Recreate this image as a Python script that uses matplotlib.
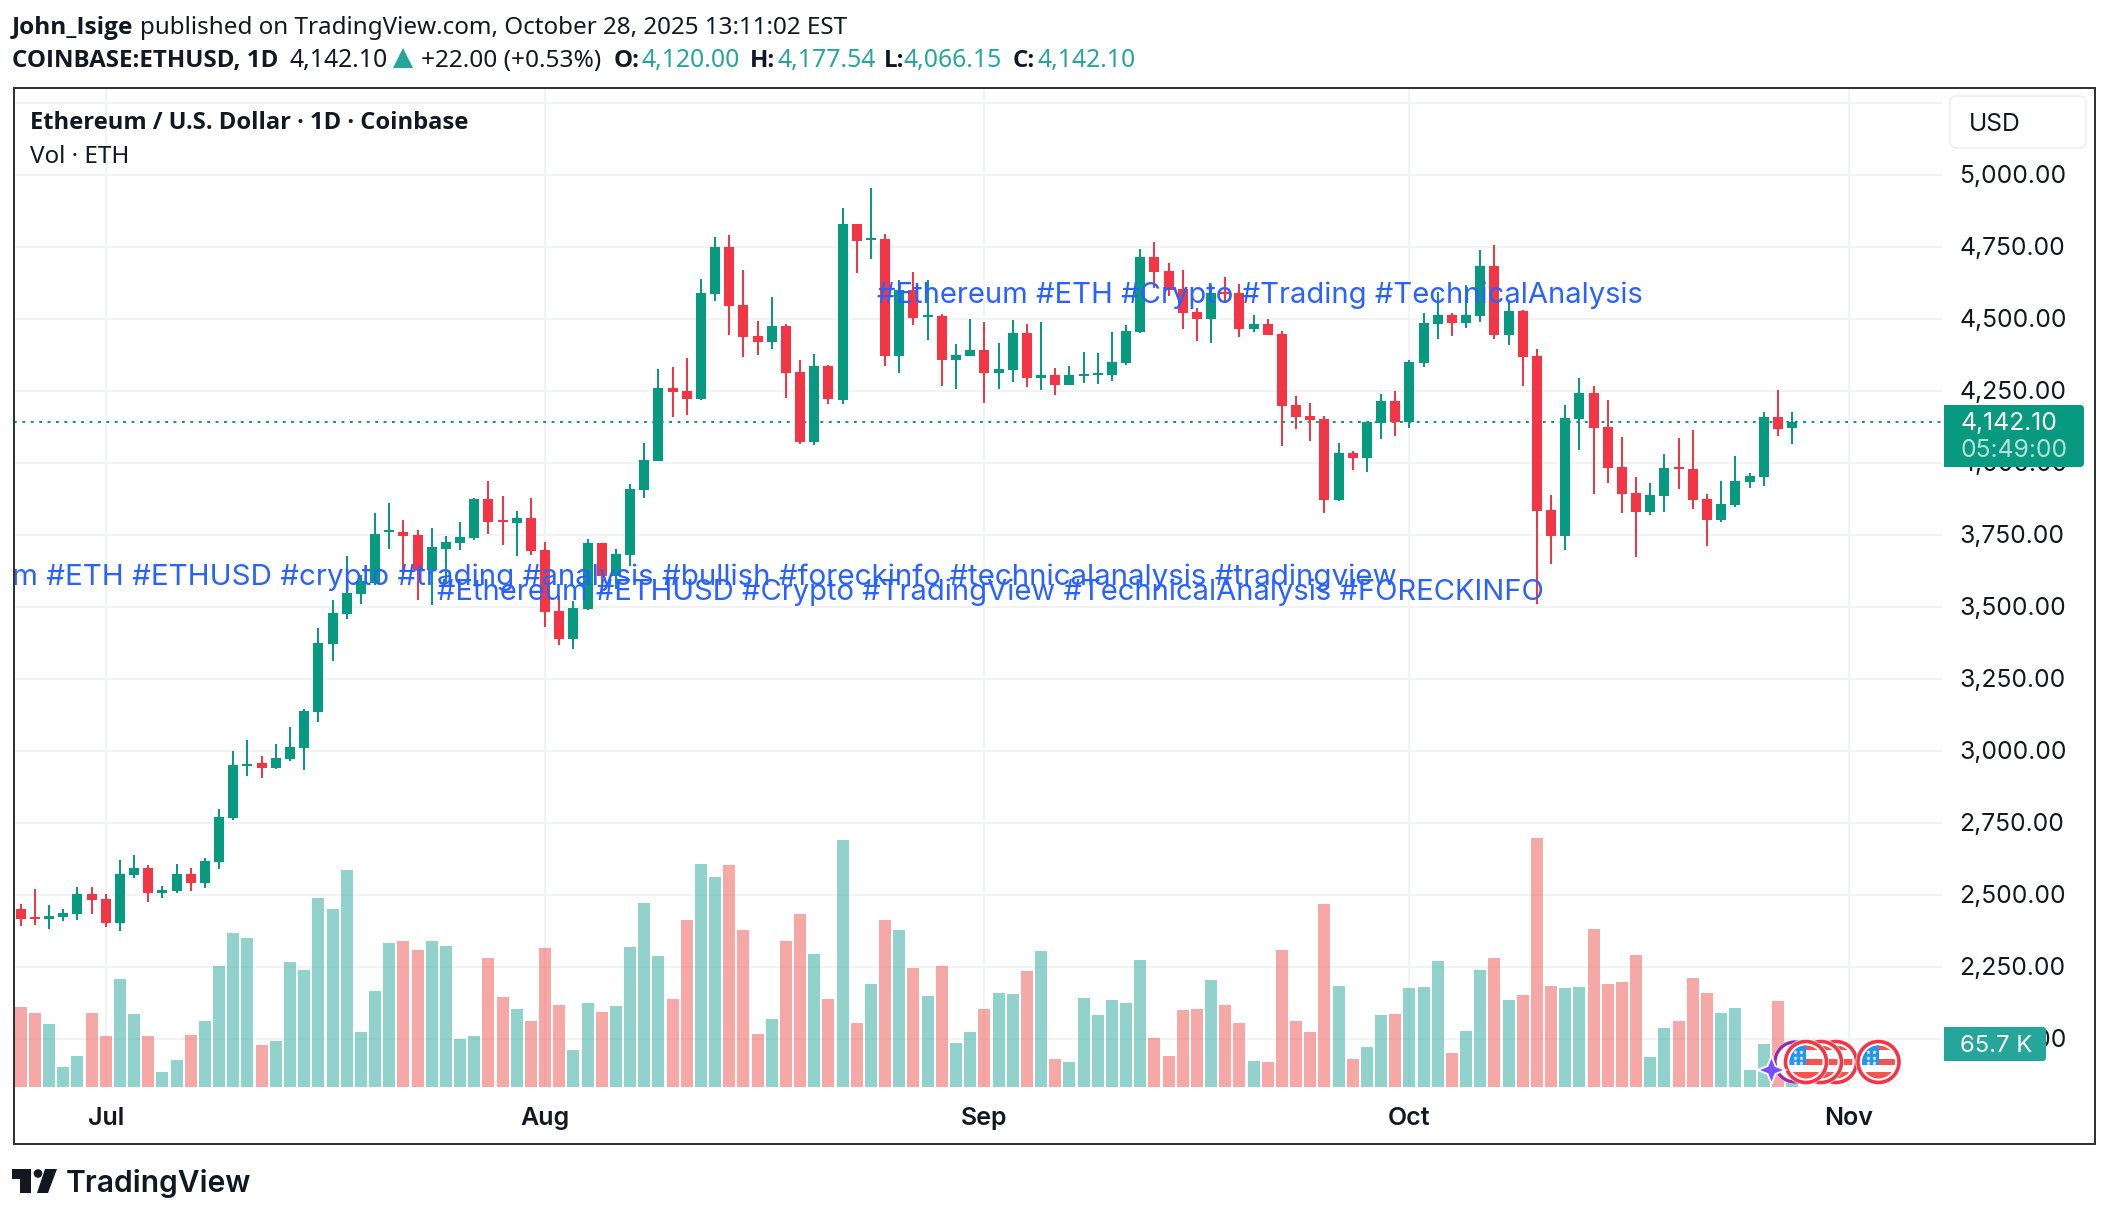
import numpy as np
import matplotlib
matplotlib.use("Agg")
import matplotlib.pyplot as plt
from matplotlib.patches import Rectangle, Circle, Polygon, FancyBboxPatch
from matplotlib.lines import Line2D
from matplotlib.transforms import Affine2D

W, H = 2108, 1218
first_day = -6
opens = [2450,2423,2416,2423,2433,2502,2485,2402,2568,2593,
 2506,2513,2572,2541,2613,2766,2947,2957,2940,2971,
 3009,3134,3370,3474,3544,3585,3759,3762,3749,3627,
 3703,3721,3738,3874,3801,3790,3808,3697,3485,3388,
 3492,3721,3606,3679,3905,4006,4260,4249,4221,4586,
 4749,4548,4440,4419,4475,4315,4072,4336,4218,4829,
 4773,4777,4371,4600,4506,4509,4357,4371,4391,4312,
 4322,4450,4294,4305,4270,4301,4305,4305,4346,4454,
 4714,4666,4603,4523,4499,4593,4589,4464,4482,4447,
 4200,4162,4152,3871,4034,4016,4138,4214,4141,4346,
 4482,4513,4485,4509,4683,4443,4527,4370,3836,3746,
 4152,4242,4124,3985,3895,3829,3885,3985,3978,3874,
 3801,3853,3933,3950,4159,4120]
highs = [2470,2522,2464,2450,2527,2527,2502,2620,2638,2603,
 2530,2607,2593,2627,2798,2999,3039,2981,3023,3082,
 3145,3426,3526,3676,3610,3825,3860,3801,3766,3773,
 3745,3794,3877,3939,3884,3832,3877,3724,3537,3520,
 3735,3721,3700,3926,4068,4325,4332,4364,4638,4784,
 4791,4669,4492,4575,4482,4357,4378,4339,4884,4829,
 4954,4794,4634,4662,4634,4516,4412,4499,4489,4416,
 4496,4482,4489,4329,4336,4384,4381,4454,4478,4742,
 4766,4693,4669,4537,4617,4645,4620,4513,4499,4457,
 4232,4207,4162,4068,4041,4141,4239,4249,4357,4520,
 4593,4520,4617,4738,4756,4558,4530,4395,3888,4200,
 4294,4266,4218,4089,3950,3930,4030,4086,4114,3891,
 3937,4023,3964,4176,4252,4177.54]
lows = [2391,2395,2381,2409,2412,2433,2388,2374,2558,2475,
 2489,2506,2513,2523,2590,2760,2912,2905,2936,2964,
 2933,3100,3311,3460,3509,3578,3703,3615,3526,3506,
 3581,3697,3731,3752,3714,3676,3679,3429,3367,3353,
 3488,3544,3561,3644,3877,4006,4159,4166,4218,4561,
 4443,4367,4374,4395,4225,4065,4062,4204,4204,4659,
 4707,4336,4312,4478,4426,4266,4256,4371,4207,4256,
 4280,4263,4253,4235,4270,4277,4273,4284,4339,4450,
 4607,4579,4464,4423,4416,4555,4436,4454,4443,4058,
 4117,4075,3826,3867,3975,3968,4082,4093,4121,4332,
 4430,4440,4468,4489,4430,4409,4266,3510,3649,3697,
 4044,3891,3930,3826,3673,3819,3829,3909,3839,3711,
 3794,3846,3912,3919,4093,4066.15]
closes = [2416,2416,2426,2436,2502,2482,2402,2572,2593,2506,
 2516,2572,2541,2617,2770,2950,2956,2940,2975,3013,
 3138,3374,3478,3547,3592,3755,3766,3745,3627,3707,
 3724,3742,3874,3794,3794,3808,3693,3481,3388,3495,
 3721,3606,3683,3908,4009,4260,4246,4221,4589,4749,
 4544,4437,4419,4475,4312,4072,4336,4221,4829,4770,
 4780,4371,4600,4503,4513,4357,4374,4391,4312,4325,
 4450,4294,4305,4270,4305,4308,4312,4350,4457,4714,
 4662,4600,4520,4499,4589,4586,4464,4482,4443,4197,
 4159,4148,3871,4034,4016,4141,4214,4141,4350,4485,
 4513,4485,4513,4683,4443,4527,4367,3832,3746,4155,
 4242,4121,3982,3891,3829,3888,3982,3978,3871,3801,
 3857,3937,3954,4159,4117,4142.1]
volumes_k = [120.7,111.6,94.9,29.8,46.5,111.6,76.8,163.1,110.1,76.8,
 22.2,40.4,78.3,99.5,182.8,232.8,225.2,63.1,69.2,188.9,
 176.8,285.8,269.2,328.3,82.8,144.9,217.7,220.7,207.1,220.7,
 213.1,72.2,76.8,194.9,135.8,117.7,99.5,210.1,123.7,55.6,
 126.8,113.1,122.2,211.6,278.3,198.0,132.8,252.5,337.3,317.6,
 335.8,237.4,79.8,102.5,220.7,261.6,201.0,132.8,373.7,96.5,
 155.5,252.5,237.4,179.8,137.4,182.8,66.2,82.8,117.7,141.9,
 140.4,175.2,205.5,41.9,37.4,134.3,108.6,131.3,126.8,191.9,
 73.7,46.5,116.2,117.7,161.6,123.7,96.5,38.9,37.4,207.1,
 99.5,82.8,276.7,152.5,41.9,60.1,108.6,110.1,149.5,151.0,
 190.4,51.0,84.3,176.8,194.9,131.3,138.9,376.7,152.5,149.5,
 151.0,238.9,155.5,158.6,199.5,44.9,88.9,99.5,164.6,141.9,
 111.6,119.2,25.3,64.6,129.8,65.7]
month_days = [0, 31, 62, 92, 123]
month_labels = ["Jul", "Aug", "Sep", "Oct", "Nov"]
price_ticks = [2000,2250,2500,2750,3000,3250,3500,3750,4000,4250,4500,4750,5000]
grid_prices = price_ticks + [5250]
last_price = 4142.10
notes = ["m #ETH #ETHUSD #crypto #trading #analysis #bullish #foreckinfo #technicalanalysis #tradingview",
         "#Ethereum #ETHUSD #Crypto #TradingView #TechnicalAnalysis #FORECKINFO",
         "#Ethereum #ETH #Crypto #Trading #TechnicalAnalysis"]

GREEN, RED, INK = "#089981", "#F23645", "#131722"
TEAL = "#26A69A"
BODY_FONT, HEAD_FONT, BOLD_FONT = "Inter", "Noto Sans", "Open Sans"

fig = plt.figure(figsize=(W/100, H/100), dpi=100, facecolor="white")
pxT = Affine2D().scale(1, -1).translate(0, H)

L, R, T, B = 13.5, 1942.0, 87.5, 1087.0
rect = [L/W, 1-B/H, (R-L)/W, (B-T)/H]
pp = 0.288            # pixels per dollar
vp = 1/1.515          # pixels per thousand volume
ppd = 14.17           # pixels per day
xlim = ((L-105.8)/ppd, (R-105.8)/ppd)
ylim = (5000-(B-175)/pp, 5000+(175-T)/pp)

grid_ax = fig.add_axes(rect, zorder=0)
vol_ax = fig.add_axes(rect, zorder=1)
ax = fig.add_axes(rect, zorder=2)
for a in (grid_ax, vol_ax, ax):
    a.set_xlim(xlim)
    for s in a.spines.values():
        s.set_visible(False)
    a.tick_params(length=0)
grid_ax.set_ylim(ylim); ax.set_ylim(ylim)
vol_ax.set_ylim(0, (B-T)/vp)
vol_ax.patch.set_visible(False); ax.patch.set_visible(False)
grid_ax.set_xticks([]); grid_ax.set_yticks([])
vol_ax.set_xticks([]); vol_ax.set_yticks([])

GRID = "#F2F3F3"
for p in grid_prices:
    grid_ax.axhline(p, color=GRID, lw=1.44)
for d in month_days:
    grid_ax.axvline(d, color=GRID, lw=1.44)

days = np.arange(first_day, first_day+len(opens))
o, h, l, c = map(np.array, (opens, highs, lows, closes))
up = c >= o
cols = np.where(up, GREEN, RED)
vcols = np.where(up, TEAL, "#EF5350")
vol_ax.bar(days, volumes_k, width=12/ppd, color=vcols.tolist(), alpha=0.5, linewidth=0)

ax.axhline(last_price, color=GREEN, lw=1.44, dashes=(1.4, 2.8), zorder=1)
ax.vlines(days, l, h, colors=cols.tolist(), lw=1.44, zorder=2, capstyle="butt")
ax.bar(days, np.abs(c-o), bottom=np.minimum(o, c), width=10/ppd, color=cols.tolist(), linewidth=0, zorder=3)

ax.yaxis.tick_right()
ax.set_yticks(price_ticks)
ax.set_yticklabels([f"{p:,.2f}" for p in price_ticks], fontsize=17.8, family=BODY_FONT, color=INK, va="center_baseline")
ax.tick_params(axis="y", pad=12.6)
for lab in ax.get_yticklabels():
    lab.set_transform(lab.get_transform() + Affine2D().translate(0, 0.8))
ax.set_xticks(month_days)
ax.set_xticklabels(month_labels, fontsize=18, family=BODY_FONT, weight="semibold", color=INK)
ax.tick_params(axis="x", pad=14.6)

def txt(x, y, s, **kw):
    kw.setdefault("family", BODY_FONT)
    kw.setdefault("color", INK)
    kw.setdefault("fontsize", 17.8)
    kw.setdefault("va", "center_baseline")
    kw.setdefault("zorder", 8)
    return fig.text(x, y, s, transform=pxT, **kw)

def add(p, z=6):
    p.set_transform(pxT); p.set_zorder(z)
    fig.add_artist(p)
    return p

# notes
note_kw = dict(color="#2962FF", zorder=4)
txt(12.5, 574, notes[0], fontsize=21.3, **note_kw)
txt(437, 589, notes[1], fontsize=21.0, **note_kw)
txt(877, 292, notes[2], fontsize=21.05, **note_kw)

# frame
add(Rectangle((13.5, 87.5), 2095-13.5, 1144-87.5, fill=False, ec="#333333", lw=1.44), 9)

# headers
hs = 17.45
bs = 17.4
txt(12, 25, "John_Isige", family=BOLD_FONT, weight="bold", fontsize=17.6)
txt(140, 25, "published on TradingView.com, October 28, 2025 13:11:02 EST", family=HEAD_FONT, fontsize=hs)
txt(12, 58, "COINBASE:ETHUSD, 1D", family=BOLD_FONT, weight="bold", fontsize=bs)
txt(289, 58, "4,142.10", family=HEAD_FONT, fontsize=17.8)
add(Polygon([(393, 68), (413, 68), (403, 48)], closed=True, fc=TEAL, ec="none"))
txt(421, 58, "+22.00 (+0.53%)", family=HEAD_FONT, fontsize=17.6)
for x1, lab, x2, val in [(614, "O:", 642, "4,120.00"), (750, "H:", 777, "4,177.54"),
                         (884, "L:", 904, "4,066.15"), (1013, "C:", 1037, "4,142.10")]:
    txt(x1, 58, lab, family=BOLD_FONT, weight="bold", fontsize=bs)
    txt(x2, 58, val, family=HEAD_FONT, fontsize=17.8, color=TEAL)
txt(30, 120, "Ethereum / U.S. Dollar · 1D · Coinbase", family=BOLD_FONT, weight="bold", fontsize=17.1)
txt(30, 154, "Vol · ETH", family=HEAD_FONT, fontsize=hs)

# USD box
add(FancyBboxPatch((1950+7, 96+7), 136-14, 52-14, boxstyle="round,pad=7", fc="white", ec="#EFEFEF", lw=1.2))
txt(1969, 122, "USD")

# last price label
add(FancyBboxPatch((1944+4, 405+4), 140-8, 62-8, boxstyle="round,pad=4", fc=GREEN, ec="none"))
add(Rectangle((1944, 405), 20, 62, fc=GREEN, ec="none"))
txt(1960, 421, "4,142.10", color="white")
txt(1960, 448, "05:49:00", color="#B5E0D9")

# volume label
add(FancyBboxPatch((1944+3, 1027+3), 102-6, 34-6, boxstyle="round,pad=3", fc=TEAL, ec="none"))
add(Rectangle((1944, 1027), 20, 34, fc=TEAL, ec="none"))
txt(1960, 1043, "65.7 K", color="white", fontsize=17.2)

# event markers
def flag(cx, cy):
    add(Circle((cx, cy), 23, fc="white", ec="none"), 6)
    add(Circle((cx, cy), 20.5, fc="white", ec=RED, lw=2.6), 6)
    clip = Circle((cx, cy), 16.5, transform=pxT)
    for y0, y1 in [(cy-17, cy-12), (cy-3, cy+3), (cy+10, cy+17)]:
        r = add(Rectangle((cx-17, y0), 34, y1-y0, fc="#F4534F", ec="none"), 6)
        r.set_clip_path(clip)
    r = add(Rectangle((cx-17, cy-17), 17, 20, fc="#2196F3", ec="none"), 6)
    r.set_clip_path(clip)
    for dx, dy in [(-11, -10), (-5, -10), (-11, -4), (-5, -4), (-11, 1), (-5, 1)]:
        m = Line2D([cx+dx], [cy+dy], marker="*", ms=3.6, color="white", mec="none", ls="none", transform=pxT, zorder=6)
        fig.add_artist(m)

add(Circle((1795, 1062), 22, fc="white", ec="none"), 5)
add(Circle((1795, 1062), 20, fc="none", ec="#9C27B0", lw=2.4), 5)
for cx in (1836, 1821, 1806, 1878.5):
    flag(cx, 1062)
sx, sy = 1771.5, 1070
pts = []
for i in range(8):
    a = i*np.pi/4
    rr = 11.5 if i % 2 == 0 else 4.6
    pts.append((sx+rr*np.cos(a), sy+rr*np.sin(a)))
add(Polygon(pts, closed=True, fc="white", ec="white", lw=2.6), 7)
add(Polygon(pts, closed=True, fc="#7C4DFF", ec="none"), 7)

# TradingView logo
add(Polygon([(12, 1169), (31, 1169), (31, 1193), (20, 1193), (20, 1179), (12, 1179)], closed=True, fc=INK, ec="none"))
add(Circle((38, 1173.5), 4.3, fc=INK, ec="none"))
add(Polygon([(45, 1169), (57, 1169), (48, 1193), (37, 1193)], closed=True, fc=INK, ec="none"))
txt(66, 1181, "TradingView", family="Inter", weight="semibold", fontsize=21.6)

fig.savefig("out.png", dpi=100)
